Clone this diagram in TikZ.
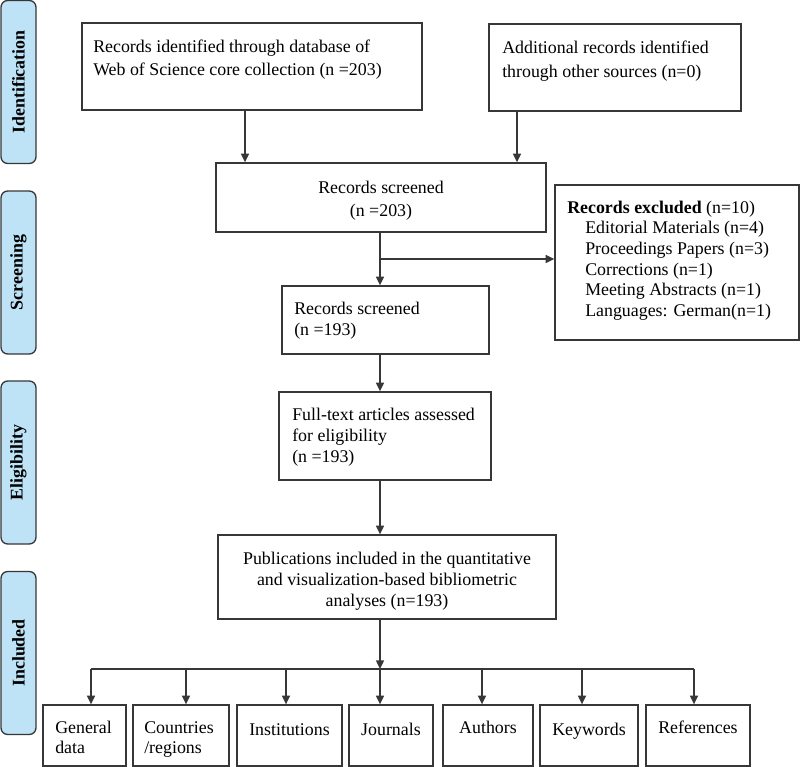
\documentclass[tikz,border=0pt]{standalone}
\usepackage{fontspec}
\setmainfont{Liberation Serif}
\usetikzlibrary{arrows.meta,fit}
\definecolor{sidefill}{RGB}{190,227,247}
\definecolor{linec}{RGB}{55,55,55}
\newcommand{\fls}{\rule{0pt}{12pt}}
\begin{document}
\begin{tikzpicture}[x=0.75pt,y=-0.75pt,
  font=\fontsize{13.4}{17.6}\selectfont,
  box/.style={draw=linec, line width=1pt, rectangle, inner sep=0pt},
  side/.style={draw=linec, fill=sidefill, rounded corners=5pt, line width=1pt,
    rotate=90, minimum width=122.25pt, minimum height=26.25pt, inner sep=0pt,
    font=\fontsize{13.4}{16}\selectfont\bfseries},
  txt/.style={inner sep=0pt, anchor=north west, align=left},
  ctxt/.style={inner sep=0pt, anchor=north, align=center},
  lsp/.style={font=\fontsize{13.4}{#1}\selectfont},
  arr/.style={draw=linec, line width=1pt, -{Triangle[length=6.5pt,width=6pt]}},
  ln/.style={draw=linec, line width=1pt}]
\useasboundingbox (0,0) rectangle (800,767);

% phase labels
\node[side] (sid) at (18.5,82) {Identification};
\node[side] (sscr) at (18.5,272.5) {Screening};
\node[side] (selig) at (18.5,462.5) {Eligibility};
\node[side] (sincl) at (18.5,653) {Included};

% boxes
\node[box, fit={(82,23) (422,110)}] (b1) {};
\node[txt, lsp=17.6pt] (t1) at (93,36) {\fls Records identified through database of\\Web of Science core collection (n =203)};
\node[box, fit={(489,24) (741,111)}] (b2) {};
\node[txt, lsp=18pt] (t2) at (502,37) {\fls Additional records identified\\through other sources (n=0)};

\node[box, fit={(216,163) (546,232)}] (b3) {};
\node[ctxt, lsp=17.25pt] (t3) at (381,177) {\fls Records screened\\(n =203)};

\node[box, fit={(555,185) (799,340)}] (ex) {};
\node[txt, lsp=15.45pt] (tex) at (567,197) {\fls\textbf{Records excluded} (n=10)\\
\hspace*{13.5pt}Editorial Materials (n=4)\\
\hspace*{13.5pt}Proceedings Papers (n=3)\\
\hspace*{13.5pt}Corrections (n=1)\\
\hspace*{13.5pt}Meeting Abstracts (n=1)\\
\hspace*{13.5pt}Languages: German(n=1)};

\node[box, fit={(282,286) (489,354)}] (b4) {};
\node[txt, lsp=15.75pt] (t4) at (294,298) {\fls Records screened\\(n =193)};

\node[box, fit={(279,392) (491,480)}] (b5) {};
\node[txt, lsp=15.75pt] (t5) at (292,404) {\fls Full-text articles assessed\\for eligibility\\(n =193)};

\node[box, fit={(218,535) (556,619)}] (b6) {};
\node[ctxt, lsp=15.75pt] (t6) at (387,548) {\fls Publications included in the quantitative\\and visualization-based bibliometric\\analyses (n=193)};

% bottom boxes
\node[box, fit={(43,705) (126,766)}] (g) {};
\node[txt, lsp=15pt] (tg) at (55,717) {\fls General\\data};
\node[box, fit={(133,705) (229,766)}] (c) {};
\node[txt, lsp=15pt] (tc) at (144,717) {\fls Countries\\/regions};
\node[box, fit={(237,705) (342,766)}] (i) {};
\node[inner sep=0pt, anchor=base] (ti) at (289.5,735) {Institutions};
\node[box, fit={(349,705) (433,766)}] (j) {};
\node[inner sep=0pt, anchor=base] (tj) at (391,735) {Journals};
\node[box, fit={(443,705) (533,766)}] (a) {};
\node[inner sep=0pt, anchor=base] (ta) at (488,733) {Authors};
\node[box, fit={(540,705) (638,766)}] (k) {};
\node[inner sep=0pt, anchor=base] (tk) at (589,735) {Keywords};
\node[box, fit={(646,705) (750,766)}] (r) {};
\node[inner sep=0pt, anchor=base] (tr) at (698,733) {References};

% connector coordinates
\coordinate (x1) at (245,0);
\coordinate (x2) at (517,0);
\coordinate (mx) at (380,0);
\coordinate (br) at (380,259);
\coordinate (jn) at (380,669);
\coordinate (hl) at (91,669);
\coordinate (hr) at (694,669);
\coordinate (ac) at (186,669);
\coordinate (ai) at (286,669);
\coordinate (aa) at (482,669);
\coordinate (ak) at (582,669);

% connectors
\draw[arr] (b1.south -| x1) -- (b3.north -| x1);
\draw[arr] (b2.south -| x2) -- (b3.north -| x2);
\draw[arr] (b3.south -| mx) -- (b4.north -| mx);
\draw[arr] (br) -- (ex.west |- br);
\draw[arr] (b4.south -| mx) -- (b5.north -| mx);
\draw[arr] (b5.south -| mx) -- (b6.north -| mx);
\draw[arr] (b6.south -| mx) -- (jn);
\draw[ln] (hl) -- (hr);
\draw[arr] (jn) -- (j.north -| jn);
\draw[arr] (hl) -- (g.north -| hl);
\draw[arr] (ac) -- (c.north -| ac);
\draw[arr] (ai) -- (i.north -| ai);
\draw[arr] (aa) -- (a.north -| aa);
\draw[arr] (ak) -- (k.north -| ak);
\draw[arr] (hr) -- (r.north -| hr);
\end{tikzpicture}
\end{document}
